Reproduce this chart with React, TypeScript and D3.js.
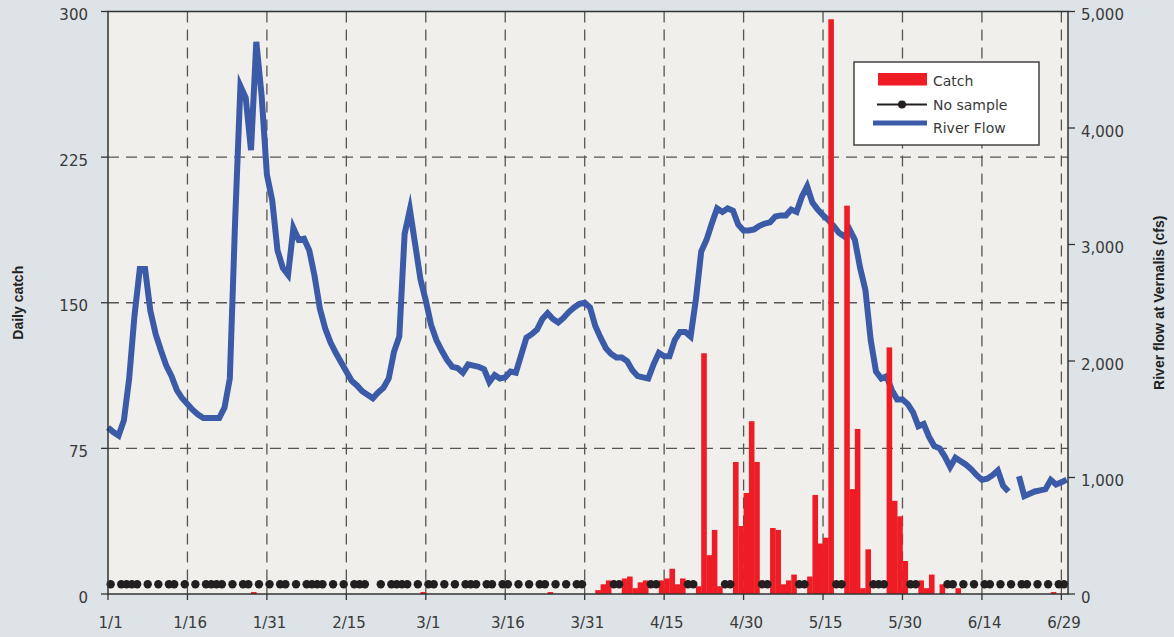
import React, { useEffect } from "react";
import * as d3 from "d3";

// ---- data (2008, day index 0 = 1/1) ----
const xTickDays = [0, 15, 30, 45, 60, 75, 90, 105, 120, 135, 150, 165, 180];
const xTickLabels = ["1/1", "1/16", "1/31", "2/15", "3/1", "3/16", "3/31", "4/15", "4/30", "5/15", "5/30", "6/14", "6/29"];
const catchTicks = [0, 75, 150, 225, 300];
const flowTicks = [0, 1000, 2000, 3000, 4000, 5000];

// River flow at Vernalis (cfs), one value per day (null = missing)
const riverFlow: (number | null)[] = [
  1430, 1390, 1360, 1490, 1850, 2390, 2790, 2790, 2430, 2230,
  2090, 1960, 1870, 1750, 1680, 1630, 1580, 1540, 1510, 1510,
  1510, 1510, 1600, 1850, 3200, 4360, 4260, 3810, 4740, 4280,
  3600, 3380, 2950, 2800, 2740, 3140, 3040, 3050, 2950, 2730,
  2450, 2280, 2160, 2070, 1990, 1910, 1830, 1790, 1740, 1710,
  1680, 1730, 1770, 1850, 2080, 2210, 3090, 3300, 3000, 2700,
  2520, 2310, 2180, 2090, 2010, 1950, 1940, 1900, 1970, 1960,
  1950, 1930, 1820, 1880, 1850, 1860, 1910, 1900, 2050, 2200,
  2230, 2270, 2360, 2410, 2360, 2330, 2370, 2420, 2460, 2490,
  2500, 2460, 2300, 2200, 2110, 2060, 2030, 2030, 2000, 1920,
  1870, 1860, 1850, 1970, 2070, 2040, 2040, 2180, 2250, 2250,
  2210, 2530, 2940, 3040, 3180, 3310, 3280, 3310, 3290, 3170,
  3120, 3120, 3130, 3160, 3180, 3190, 3240, 3250, 3250, 3300,
  3280, 3410, 3500, 3360, 3300, 3250, 3210, 3160, 3100, 3070,
  3130, 3040, 2800, 2610, 2180, 1910, 1850, 1870, 1750, 1670,
  1670, 1630, 1560, 1440, 1460, 1350, 1270, 1250, 1180, 1090,
  1170, 1140, 1110, 1070, 1020, 980, 990, 1020, 1060, 930,
  880, null, 1010, 840, 860, 880, 890, 900, 980, 940,
  960, 980,
];

// Daily catch, one value per day
const dailyCatch: number[] = [
  0, 0, 0, 0, 0, 0, 0, 0, 0, 0,
  0, 0, 0, 0, 0, 0, 0, 0, 0, 0,
  0, 0, 0, 0, 0, 0, 0, 1, 0, 0,
  0, 0, 0, 0, 0, 0, 0, 0, 0, 0,
  0, 0, 0, 0, 0, 0, 0, 0, 0, 0,
  0, 0, 0, 0, 0, 0, 0, 0, 0, 1,
  0, 0, 0, 0, 0, 0, 0, 0, 0, 0,
  0, 0, 0, 0, 0, 0, 0, 0, 0, 0,
  0, 0, 0, 1, 0, 0, 0, 0, 0, 0,
  0, 0, 2, 5, 7, 0, 0, 8, 9, 3,
  6, 7, 0, 0, 7, 8, 13, 5, 8, 0,
  0, 4, 124, 20, 33, 4, 0, 0, 68, 35,
  52, 89, 68, 0, 0, 34, 33, 5, 7, 10,
  0, 0, 9, 51, 26, 29, 296, 0, 0, 200,
  54, 85, 3, 23, 0, 0, 0, 127, 48, 40,
  17, 0, 0, 7, 3, 10, 0, 5, 0, 0,
  3, 0, 0, 0, 0, 0, 0, 0, 0, 0,
  0, 0, 0, 0, 0, 0, 0, 0, 1, 0,
  0, 0,
];

// Days with no sample
const noSampleDays = [
  0, 2, 3, 4, 5, 7, 9, 11, 12, 14, 16, 18, 19, 20, 21, 23, 25, 26, 28, 30,
  32, 33, 35, 37, 38, 39, 40, 42, 44, 46, 47, 48, 51, 53, 54, 55, 56, 58, 60, 61,
  63, 65, 67, 68, 69, 71, 72, 74, 75, 77, 79, 81, 82, 84, 86, 88, 89,
  95, 96, 102, 103, 109, 110, 116, 117, 123, 124, 130, 131, 137, 138, 144, 145, 146,
  151, 152, 158, 159, 161, 163, 165, 166, 168, 170, 172, 173, 175, 177, 179, 180,
];
const noSampleLevel = 5;

const W = 1174;
const H = 637;
const M = { left: 108, right: 1068, top: 11.5, bottom: 594 };

const BLUE = "#3b5ba8";
const RED = "#ee1c25";
const DOT = "#231f20";
const GRID = "#555";
const TXT = "#3a3a3a";
const tickFont = "'DejaVu Sans', sans-serif";

export default function App() {
  useEffect(() => {
    document.body.style.margin = "0";
    document.body.style.overflow = "hidden";
  }, []);

  const x = d3.scaleLinear().domain([0, 181.25]).range([M.left, M.right]);
  const band = x(1) - x(0);
  const yC = d3.scaleLinear().domain([0, 300]).range([M.bottom, M.top]);
  const yF = d3.scaleLinear().domain([0, 5000]).range([M.bottom, M.top]);

  const line = d3
    .line<number | null>()
    .defined((v) => v != null)
    .x((_, i) => x(i))
    .y((v) => yF(v as number));
  const flowPath = line(riverFlow) || "";

  return (
    <svg width={W} height={H} style={{ position: "absolute", left: 0, top: 0 }}>
      <rect x={0} y={0} width={W} height={H} fill="#dde3e6" />
      <rect x={M.left} y={M.top} width={M.right - M.left} height={M.bottom - M.top} fill="#f0efeb" />

      {/* grid */}
      {catchTicks.filter((t) => t > 0 && t < 300).map((t) => (
        <line key={"hg" + t} x1={M.left} x2={M.right} y1={yC(t)} y2={yC(t)} stroke={GRID} strokeWidth={1.3} strokeDasharray="11,7" />
      ))}
      {xTickDays.filter((d) => d > 0).map((d) => (
        <line key={"vg" + d} x1={x(d)} x2={x(d)} y1={M.top} y2={M.bottom} stroke={GRID} strokeWidth={1.3} strokeDasharray="11,7" />
      ))}

      {/* river flow */}
      <path d={flowPath} fill="none" stroke={BLUE} strokeWidth={6} strokeLinejoin="miter" strokeMiterlimit={6} />

      {/* catch bars */}
      {dailyCatch.map((v, i) =>
        v > 0 ? (
          <rect key={"b" + i} x={x(i)} y={yC(v)} width={band + 0.3} height={M.bottom - yC(v)} fill={RED} />
        ) : null
      )}

      {/* no sample dots */}
      {noSampleDays.map((d) => (
        <circle key={"n" + d} cx={x(d) + band / 2} cy={yC(noSampleLevel)} r={4.2} fill={DOT} />
      ))}

      {/* frame / axes */}
      <rect x={M.left} y={M.top} width={M.right - M.left} height={M.bottom - M.top} fill="none" stroke="#333" strokeWidth={1.5} />

      {catchTicks.map((t) => (
        <g key={"lc" + t}>
          <line x1={M.left - 7} x2={M.left} y1={yC(t)} y2={yC(t)} stroke="#333" strokeWidth={1.3} />
          <text x={88} y={yC(t) + 8.5} textAnchor="end" fontFamily={tickFont} fontSize={15} fill={TXT}>
            {t}
          </text>
        </g>
      ))}
      {flowTicks.map((t) => (
        <g key={"rf" + t}>
          <line x1={M.right} x2={M.right + 7} y1={yF(t)} y2={yF(t)} stroke="#333" strokeWidth={1.3} />
          <text x={1081} y={yF(t) + 8.5} textAnchor="start" fontFamily={tickFont} fontSize={15} fill={TXT}>
            {d3.format(",")(t)}
          </text>
        </g>
      ))}
      {xTickDays.map((d, i) => (
        <g key={"xt" + d}>
          <line x1={x(d)} x2={x(d)} y1={M.bottom} y2={M.bottom + 6} stroke="#333" strokeWidth={1.3} />
          <text x={x(d) + band / 2} y={628} textAnchor="middle" fontFamily={tickFont} fontSize={15} fill={TXT}>
            {xTickLabels[i]}
          </text>
        </g>
      ))}

      <text transform={`translate(23,${(M.top + M.bottom) / 2}) rotate(-90)`} textAnchor="middle" fontFamily="'Liberation Sans', Arial, sans-serif" fontWeight="bold" fontSize={14} fill="#222">
        Daily catch
      </text>
      <text transform={`translate(1164,${(M.top + M.bottom) / 2}) rotate(-90)`} textAnchor="middle" fontFamily="'Liberation Sans', Arial, sans-serif" fontWeight="bold" fontSize={14} fill="#222">
        River flow at Vernalis (cfs)
      </text>

      {/* legend */}
      <g>
        <rect x={854} y={62} width={185} height={83} fill="#fff" stroke="#444" strokeWidth={1.5} />
        <rect x={878} y={73} width={49} height={12.5} fill={RED} />
        <line x1={877} x2={927} y1={104.5} y2={104.5} stroke={DOT} strokeWidth={2} />
        <circle cx={902} cy={104.5} r={4} fill={DOT} />
        <line x1={873} x2={927} y1={123} y2={123} stroke={BLUE} strokeWidth={5} />
        <text x={933} y={85.5} fontFamily={tickFont} fontSize={14} fill={TXT}>Catch</text>
        <text x={933} y={110} fontFamily={tickFont} fontSize={14} fill={TXT}>No sample</text>
        <text x={933} y={133} fontFamily={tickFont} fontSize={14} fill={TXT}>River Flow</text>
      </g>
    </svg>
  );
}
